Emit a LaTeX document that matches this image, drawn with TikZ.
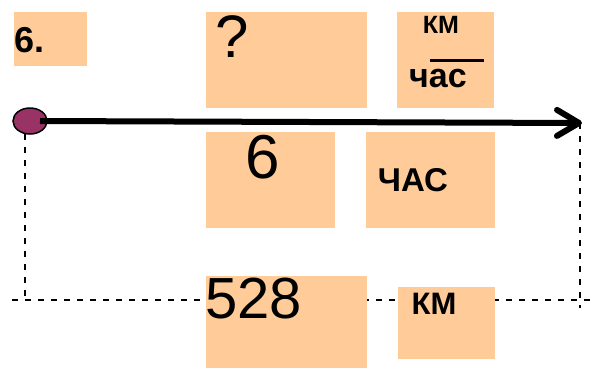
\documentclass[tikz,border=0pt]{standalone}
\usepackage{fontspec}
\setmainfont{Liberation Sans}
\usepackage{xcolor}
\usetikzlibrary{shapes.geometric, arrows.meta, positioning, calc}
\definecolor{boxfill}{HTML}{FFCC99}
\definecolor{dotfill}{HTML}{993366}

\begin{document}
\begin{tikzpicture}[
    x=1pt, y=-1pt,
    cell/.style={fill=boxfill, inner sep=0pt, anchor=north west},
    txt/.style={inner sep=0pt, anchor=base},
    guide/.style={line width=1.5pt, dash pattern=on 6pt off 7pt},
    axis/.style={line width=6pt, -{Straight Barb[length=22pt, width=26pt, round]}}
]
    \useasboundingbox (0,0) rectangle (606,368);

    % dashed frame below the line
    \coordinate (ltop) at (25,134);
    \coordinate (bl)   at (12,300);
    \coordinate (br)   at (593,300);
    \coordinate (tip)  at (582,123);
    \coordinate (rbot) at (580,308);
    \draw[guide] (bl) -- (br);
    \draw[guide] (ltop) -- (ltop |- bl);
    \draw[guide] (tip -| rbot) -- (rbot);

    % boxes
    \node[cell, minimum width=73pt,  minimum height=54pt] (num)   at (14,12)   {};
    \node[cell, minimum width=161pt, minimum height=96pt] (unk)   at (206,12)  {};
    \node[cell, minimum width=97pt,  minimum height=96pt] (spd)   at (397,12)  {};
    \node[cell, minimum width=129pt, minimum height=96pt] (tm)    at (206,132) {};
    \node[cell, minimum width=129pt, minimum height=96pt] (tunit) at (366,132) {};
    \node[cell, minimum width=161pt, minimum height=92pt] (dist)  at (206,276) {};
    \node[cell, minimum width=97pt,  minimum height=72pt] (dunit) at (398,287) {};

    % texts
    \node[txt, anchor=base west, font=\fontsize{36}{36}\selectfont\bfseries] (numtxt) at (14,52) {6.};
    \node[txt, anchor=base west, font=\fontsize{60}{60}\selectfont] (unktxt) at (215,57) {?};
    \node[txt, font=\fontsize{25}{25}\selectfont\bfseries] (spdtop) at (441,33) {КМ};
    \node[txt, font=\fontsize{34}{34}\selectfont\bfseries] (spdbot) at (438,87) {час};
    \draw[line width=3pt] (430,60) -- (484,60);
    \node[txt, font=\fontsize{62}{62}\selectfont] (tmtxt) at (263,178) {6};
    \node[txt, font=\fontsize{33}{33}\selectfont\bfseries] (tunittxt) at (413,191) {ЧАС};
    \node[txt, anchor=base west, font=\fontsize{58}{58}\selectfont] (disttxt) at (205,318) {528};
    \node[txt, font=\fontsize{31}{31}\selectfont\bfseries] (dunittxt) at (434,314) {КМ};

    % start point and main arrow
    \node[draw, ellipse, line width=1.5pt, fill=dotfill, inner sep=0pt,
          minimum width=34pt, minimum height=26pt] (dot) at (30,121) {};
    \draw[axis] ([xshift=10pt]dot.center) -- (tip);
\end{tikzpicture}
\end{document}
